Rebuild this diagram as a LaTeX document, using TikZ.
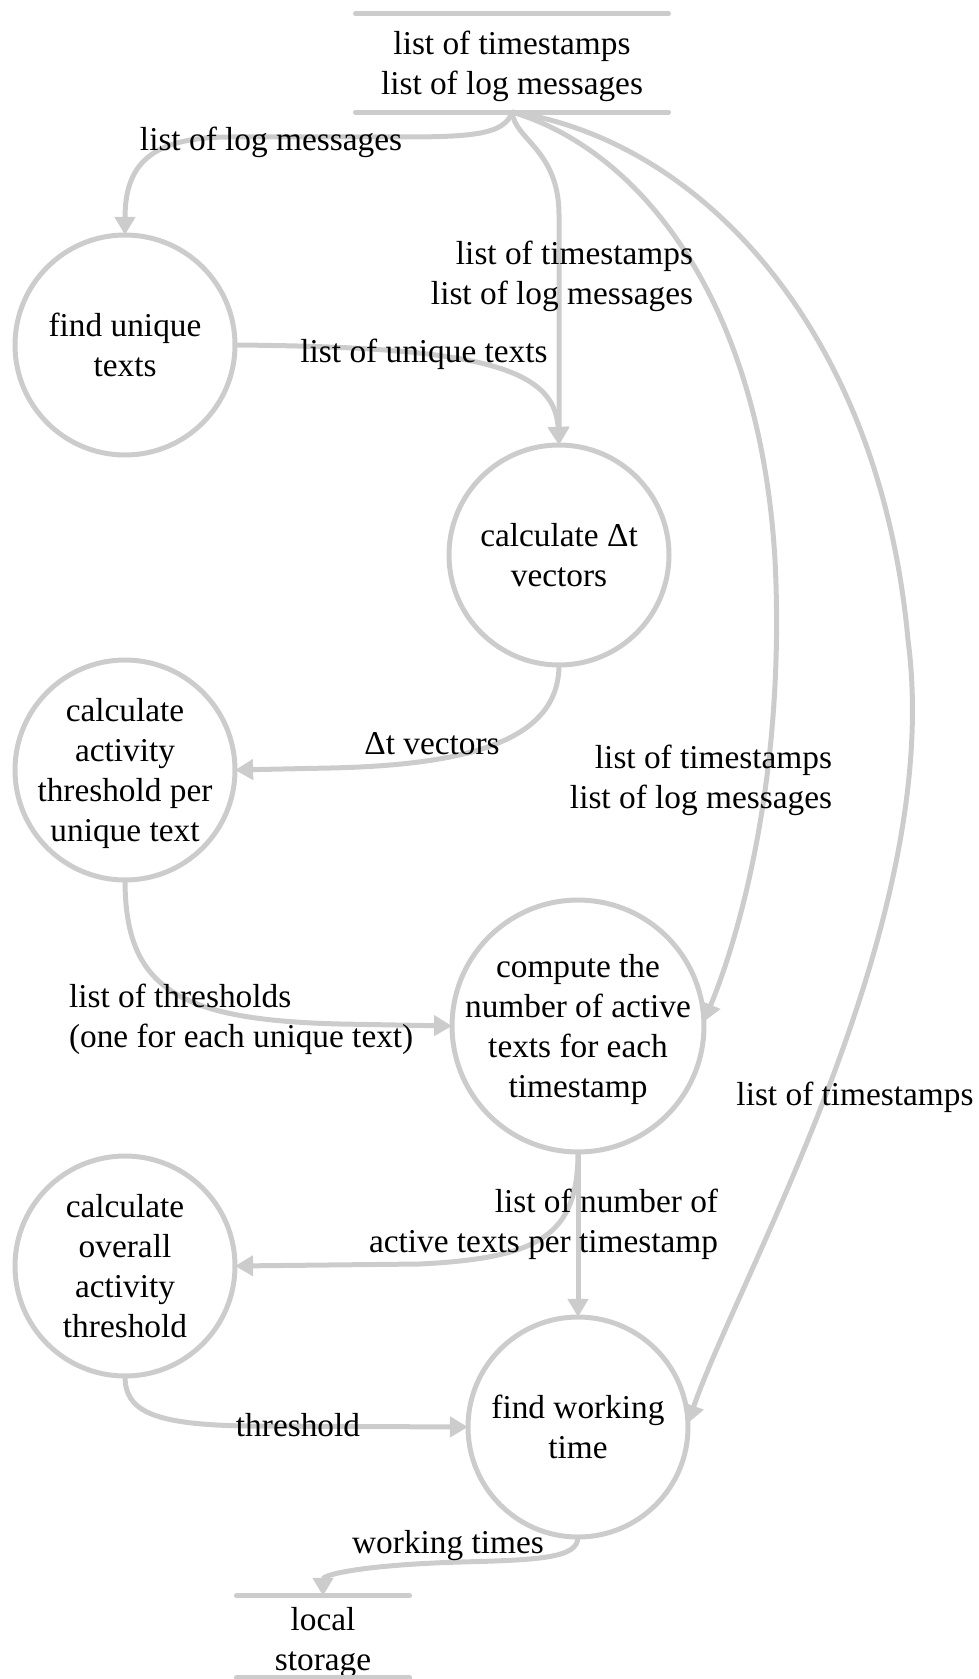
\documentclass[tikz,border=0pt]{standalone}
\usepackage{fontspec}
\setmainfont{Liberation Serif}
\usetikzlibrary{arrows.meta}
\definecolor{edgegray}{RGB}{204,204,204}
\begin{document}
\begin{tikzpicture}[x=0.42pt,y=-0.42pt,
  every node/.style={font=\fontsize{14pt}{16.8pt}\selectfont, inner sep=0pt, outer sep=0pt, text depth=0pt},
  proc/.style={circle, draw=edgegray, line width=2.1pt, minimum size=92.4pt, inner sep=-12pt, align=center},
  bigproc/.style={proc, minimum size=105.8pt},
  store/.style={align=center},
  storeline/.style={draw=edgegray, line width=2.1pt, line cap=round},
  flow/.style={draw=edgegray, line width=2.1pt, -{Triangle[length=7.6pt,width=8.4pt]}},
  lbl/.style={align=center},
  lblr/.style={align=right, anchor=east},
  lbll/.style={align=left, anchor=west}
]
\useasboundingbox (0,0) rectangle (979,1679);

% data stores
\node[store, minimum width=131.5pt, minimum height=41.2pt] (src) at (512,63)
  {list of timestamps\\list of log messages};
\draw[storeline] (src.north west) -- (src.north east) (src.south west) -- (src.south east);
\node[store, minimum width=72.7pt, minimum height=34.4pt] (dst) at (323,1639)
  {local\\storage};
\draw[storeline] ([yshift=0.9pt]dst.north west) -- ([yshift=0.9pt]dst.north east)
  ([yshift=0.9pt]dst.south west) -- ([yshift=0.9pt]dst.south east);

% processes
\node[proc] (uniq) at (125,345) {find unique\\texts};
\node[proc] (dt) at (559,555) {calculate Δt\\vectors};
\node[proc] (thr) at (125,770) {calculate\\activity\\threshold per\\unique text};
\node[bigproc] (act) at (578,1026) {compute the\\number of active\\texts for each\\timestamp};
\node[proc] (ovr) at (125,1266) {calculate\\overall\\activity\\threshold};
\node[proc] (work) at (578,1427) {find working\\time};

% flows
\draw[flow] (src.south) .. controls (505,135) and (470,137) .. (400,137)
  -- (230,137) .. controls (150,137) and (125,165) .. (uniq.north);
\draw[flow] (src.south) .. controls (515,140) and (559,150) .. (559,215) -- (dt.north);
\draw[flow] (uniq.east) .. controls (470,347) and (555,365) .. (dt.north);
\draw[flow] (dt.south) .. controls (559,740) and (470,765) .. (330,768) -- (thr.east);
\draw[flow] (src.south) .. controls (640,150) and (760,300) .. (775,560)
  .. controls (785,760) and (745,922) .. (act.2);
\draw[flow] (thr.south) .. controls (125,990) and (180,1020) .. (340,1024) -- (act.west);
\draw[flow] (act.south) .. controls (578,1235) and (540,1258) .. (420,1264) -- (ovr.east);
\draw[flow] (act.south) -- (work.north);
\draw[flow] (src.south) .. controls (700,140) and (880,330) .. (908,640)
  .. controls (945,920) and (740,1273) .. (work.2);
\draw[flow] (ovr.south) .. controls (125,1410) and (150,1425) .. (250,1426) -- (work.west);
\draw[flow] (work.south) .. controls (578,1558) and (540,1560) .. (460,1562)
  .. controls (360,1565) and (323,1575) .. ([yshift=0.9pt]dst.north);

% flow labels
\node[lbl] (l1) at (271,139) {list of log messages};
\node[lblr] (l2) at (693,273) {list of timestamps\\list of log messages};
\node[lbl] (l3) at (424,351) {list of unique texts};
\node[lbl] (l4) at (432,743) {Δt vectors};
\node[lblr] (l5) at (832,777) {list of timestamps\\list of log messages};
\node[lbll] (l6) at (69,1016) {list of thresholds\\(one for each unique text)};
\node[lblr] (l7) at (718,1221) {list of number of\\active texts per timestamp};
\node[lbl] (l8) at (855,1094) {list of timestamps};
\node[lbl] (l9) at (298,1425) {threshold};
\node[lbl] (l10) at (448,1542) {working times};
\end{tikzpicture}
\end{document}
